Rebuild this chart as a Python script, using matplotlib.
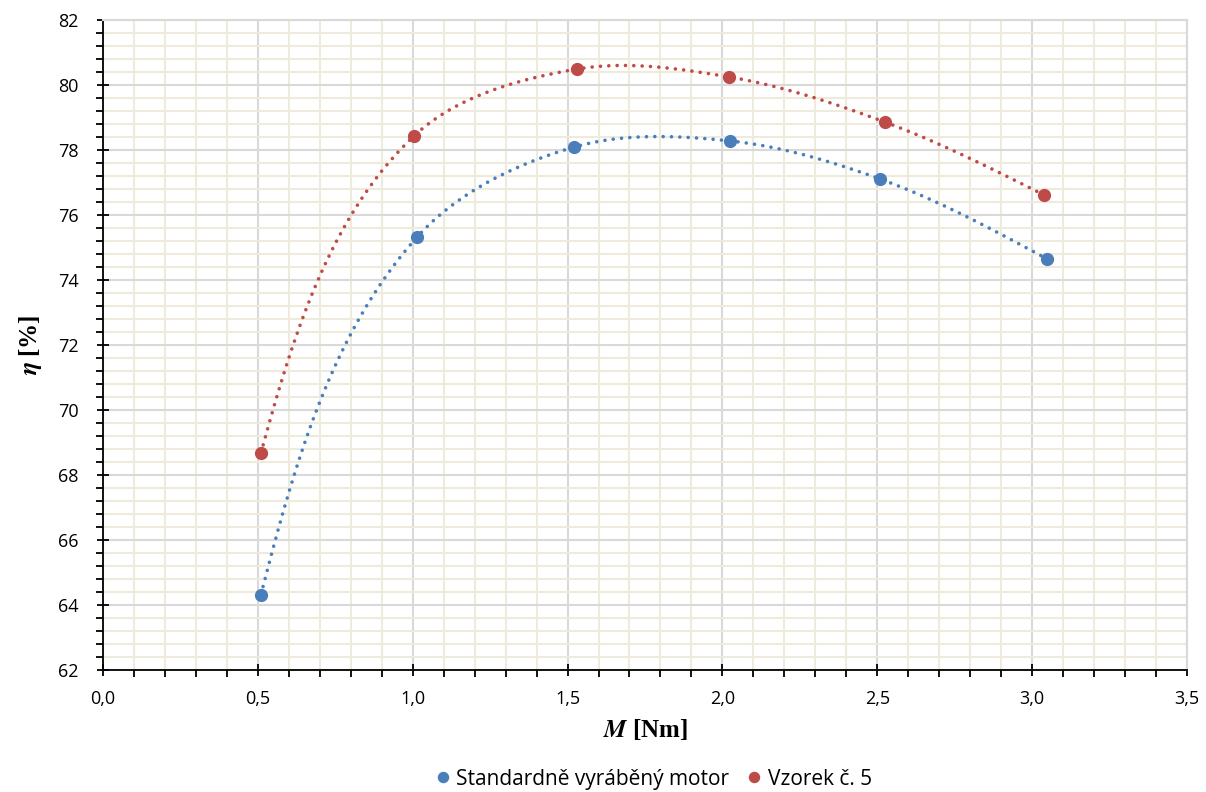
import numpy as np
import matplotlib
matplotlib.use("Agg")
import matplotlib.pyplot as plt
from matplotlib.ticker import MultipleLocator, FuncFormatter

plt.rcParams["mathtext.fontset"] = "stix"

# Measured torque [Nm] and efficiency [%]
torque_std = [0.51, 1.014, 1.521, 2.025, 2.509, 3.048]
eff_std = [64.32, 75.32, 78.09, 78.28, 77.11, 74.65]

torque_s5 = [0.51, 1.004, 1.530, 2.021, 2.525, 3.038]
eff_s5 = [68.68, 78.43, 80.49, 80.25, 78.86, 76.62]

label_std = "Standardně vyráběný motor"
label_s5 = "Vzorek č. 5"

blue = "#4a7ebb"
red = "#be4b48"


def smooth_line(ax, x, y, arm=1 / 3, n=60):
    """Smoothed line through the points, built from Bezier segments in display space."""
    P = ax.transData.transform(np.column_stack([x, y]))
    d = np.diff(P, axis=0)
    L = np.hypot(d[:, 0], d[:, 1])
    u = d / L[:, None]

    def unit(v):
        return v / np.hypot(*v)

    def reflect(t, c):
        return 2 * np.dot(t, c) * c - t

    T = np.zeros_like(P)
    for i in range(1, len(P) - 1):
        T[i] = unit(u[i - 1] + u[i])
    T[0] = unit(u[0] + reflect(T[1], u[0]))
    T[-1] = unit(u[-1] + reflect(T[-2], u[-1]))

    t = np.linspace(0, 1, n)[:, None]
    out = []
    for i in range(len(P) - 1):
        p1, p2 = P[i], P[i + 1]
        c1 = p1 + T[i] * L[i] * arm
        c2 = p2 - T[i + 1] * L[i] * arm
        seg = ((1 - t) ** 3) * p1 + 3 * ((1 - t) ** 2) * t * c1 \
            + 3 * (1 - t) * t ** 2 * c2 + t ** 3 * p2
        out.append(seg if i == 0 else seg[1:])
    s = ax.transData.inverted().transform(np.vstack(out))
    return s[:, 0], s[:, 1]


fig = plt.figure(figsize=(12.06, 7.92), dpi=100)
ax = fig.add_axes([0.0854, 0.154, 0.8988, 0.8207])

ax.set_xlim(0, 3.5)
ax.set_ylim(62, 82)
ax.xaxis.set_major_locator(MultipleLocator(0.5))
ax.xaxis.set_minor_locator(MultipleLocator(0.1))
ax.yaxis.set_major_locator(MultipleLocator(2))
ax.yaxis.set_minor_locator(MultipleLocator(0.4))
ax.xaxis.set_major_formatter(FuncFormatter(lambda v, p: f"{v:.1f}".replace(".", ",")))

ax.grid(which="minor", color="#eeeadc", linewidth=1.5, zorder=0)
ax.grid(which="major", color="#d9d9d9", linewidth=1.5, zorder=0)
ax.set_axisbelow(True)

for side in ("top", "right"):
    ax.spines[side].set_color("#d9d9d9")
    ax.spines[side].set_linewidth(1.5)
for side in ("left", "bottom"):
    ax.spines[side].set_color("black")
    ax.spines[side].set_linewidth(1.3)

ax.tick_params(which="major", direction="inout", length=9, width=1.3, color="black",
               labelsize=13)
ax.tick_params(which="minor", direction="out", length=5, width=1.3, color="black")
ax.tick_params(axis="y", which="both", right=False)
ax.tick_params(axis="y", which="major", pad=13)
ax.tick_params(axis="x", which="both", top=False)
ax.tick_params(axis="x", which="major", pad=10)

for lab in ax.get_xticklabels() + ax.get_yticklabels():
    lab.set_fontfamily("Open Sans")

for tx, ty, col, lab in [(torque_std, eff_std, blue, label_std),
                         (torque_s5, eff_s5, red, label_s5)]:
    sx, sy = smooth_line(ax, tx, ty)
    ax.plot(sx, sy, color=col, linestyle=(0, (0.01, 2.3)),
            linewidth=2.6, dash_capstyle="round", zorder=3)
    ax.plot(tx, ty, "o", color=col, markersize=8.5, zorder=4, label=lab)

ax.set_xlabel("$\\boldsymbol{M}$ [Nm]", fontsize=18, fontweight="bold",
              fontfamily="Liberation Serif", labelpad=6)
ax.set_ylabel("$\\boldsymbol{\\eta}$ [%]", fontsize=18, fontweight="bold",
              fontfamily="Liberation Serif", labelpad=10)

leg = fig.legend(loc="center", bbox_to_anchor=(0.54, 0.0164), ncol=2, frameon=False,
                 prop={"family": "Open Sans", "size": 15}, handletextpad=0.05,
                 columnspacing=0.6, markerscale=0.85, handlelength=1.2)

fig.savefig("out.png", dpi=100)
